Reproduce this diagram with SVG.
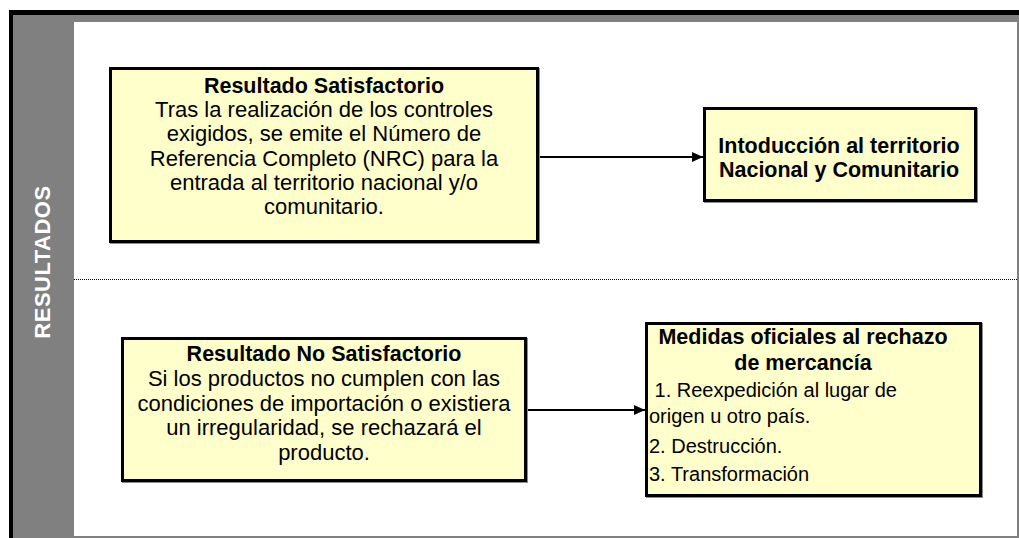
<svg xmlns="http://www.w3.org/2000/svg" width="1019" height="538" viewBox="0 0 1019 538">
<defs>
<style>
.box{fill:#FFFFCC;stroke:#000;stroke-width:3}
.shadow{fill:#8c8c8c}
.t{font-family:"Liberation Sans",Arial,sans-serif;font-size:22px;fill:#000}
.b{font-family:"Liberation Sans",Arial,sans-serif;font-size:21.5px;font-weight:bold;fill:#000}
.s{font-family:"Liberation Sans",Arial,sans-serif;font-size:20px;fill:#000}
.c{text-anchor:middle}
.conn{stroke:#000;stroke-width:2;fill:none}
</style>
<marker id="arr" markerWidth="12" markerHeight="10" refX="11" refY="5" orient="auto" markerUnits="userSpaceOnUse">
<path d="M0,0 L11,5 L0,10 Z" fill="#000"/>
</marker>
</defs>
<g id="frame">
<rect x="9" y="10" width="1010" height="528" fill="#000"/>
<rect x="13" y="15" width="1006" height="523" fill="#808080"/>
<rect x="74" y="22" width="943" height="514" fill="#fff"/>
<line x1="74" y1="279.5" x2="1017" y2="279.5" stroke="#000" stroke-width="1" stroke-dasharray="1 1"/>
<text transform="translate(50,262) rotate(-90)" font-family="Liberation Sans,Arial,sans-serif" font-size="22" font-weight="bold" fill="#fff" text-anchor="middle" letter-spacing="0.5">RESULTADOS</text>
</g>
<g id="connectors">
<line class="conn" x1="539" y1="157" x2="703" y2="157" marker-end="url(#arr)"/>
<line class="conn" x1="527" y1="410" x2="645" y2="410" marker-end="url(#arr)"/>
</g>
<g id="node-satisfactorio">
<rect class="shadow" x="110" y="68" width="430" height="176"/>
<rect class="box" x="110.5" y="68.5" width="427" height="173"/>
<text class="b c" x="324" y="93">Resultado Satisfactorio</text>
<text class="t c" x="324" y="117.2">Tras la realización de los controles</text>
<text class="t c" x="324" y="141.4">exigidos, se emite el Número de</text>
<text class="t c" x="324" y="165.6">Referencia Completo (NRC) para la</text>
<text class="t c" x="324" y="189.8">entrada al territorio nacional y/o</text>
<text class="t c" x="324" y="214">comunitario.</text>
</g>
<g id="node-introduccion">
<rect class="shadow" x="704" y="108" width="274" height="95"/>
<rect class="box" x="704.5" y="108.5" width="271" height="92"/>
<text class="b c" x="839" y="153">Intoducción al territorio</text>
<text class="b c" x="839" y="177">Nacional y Comunitario</text>
</g>
<g id="node-no-satisfactorio">
<rect class="shadow" x="122" y="338" width="406" height="145"/>
<rect class="box" x="122.5" y="338.5" width="403" height="142"/>
<text class="b c" x="324" y="361">Resultado No Satisfactorio</text>
<text class="t c" x="324" y="385.7">Si los productos no cumplen con las</text>
<text class="t c" x="324" y="410.5">condiciones de importación o existiera</text>
<text class="t c" x="324" y="435.2">un irregularidad, se rechazará el</text>
<text class="t c" x="324" y="460">producto.</text>
</g>
<g id="node-medidas">
<rect class="shadow" x="646" y="323" width="337" height="175"/>
<rect class="box" x="646.5" y="323.5" width="334" height="172"/>
<text class="b c" x="803" y="344">Medidas oficiales al rechazo</text>
<text class="b c" x="803" y="370">de mercancía</text>
<text class="s" x="649" y="397" xml:space="preserve"> 1. Reexpedición al lugar de</text>
<text class="s" x="649" y="423">origen u otro país.</text>
<text class="s" x="649" y="453">2. Destrucción.</text>
<text class="s" x="649" y="481">3. Transformación</text>
</g>
</svg>
